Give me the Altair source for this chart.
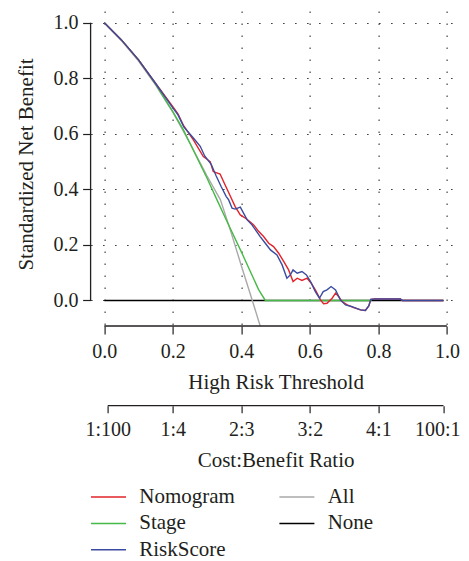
import json
import altair as alt
import pandas as pd

# ---------------- data ----------------
nomogram_t = [0.0, 0.05, 0.10, 0.15, 0.20, 0.215, 0.232, 0.26, 0.289, 0.309, 0.318, 0.338, 0.348,
              0.367, 0.382, 0.397, 0.412, 0.421, 0.436, 0.451, 0.465, 0.480, 0.494, 0.509, 0.524,
              0.538, 0.551, 0.563, 0.577, 0.592, 0.604, 0.616, 0.631, 0.640, 0.650, 0.665, 0.675,
              0.684, 0.694, 0.709, 0.728, 0.748, 0.762, 0.772, 0.778, 0.79, 0.864, 0.87, 0.99]
nomogram_v = [1.0, 0.938, 0.866, 0.781, 0.698, 0.672, 0.628, 0.578, 0.518, 0.500, 0.464, 0.455, 0.428,
              0.378, 0.338, 0.308, 0.296, 0.288, 0.272, 0.248, 0.230, 0.206, 0.194, 0.170, 0.140,
              0.110, 0.068, 0.080, 0.072, 0.080, 0.062, 0.038, 0.002, -0.012, -0.010, 0.008, 0.026,
              0.014, -0.004, -0.016, -0.026, -0.034, -0.036, -0.020, 0.004, 0.005, 0.005, 0.0, 0.0]

riskscore_t = [0.0, 0.05, 0.10, 0.15, 0.20, 0.215, 0.232, 0.26, 0.28, 0.293, 0.312, 0.326, 0.341,
               0.356, 0.363, 0.373, 0.382, 0.397, 0.417, 0.431, 0.455, 0.470, 0.485, 0.504, 0.519,
               0.533, 0.543, 0.551, 0.563, 0.577, 0.590, 0.602, 0.616, 0.628, 0.639, 0.650, 0.662,
               0.675, 0.689, 0.704, 0.723, 0.748, 0.762, 0.772, 0.778, 0.79, 0.864, 0.87, 0.99]
riskscore_v = [1.0, 0.938, 0.866, 0.781, 0.693, 0.668, 0.625, 0.585, 0.555, 0.520, 0.490, 0.450, 0.410,
               0.374, 0.362, 0.332, 0.329, 0.336, 0.290, 0.272, 0.230, 0.206, 0.182, 0.164, 0.128,
               0.080, 0.092, 0.110, 0.098, 0.104, 0.092, 0.068, 0.032, 0.008, 0.032, 0.038, 0.050,
               0.038, 0.002, -0.016, -0.022, -0.034, -0.036, -0.020, 0.004, 0.005, 0.005, 0.0, 0.0]

stage_t = [0.0, 0.05, 0.10, 0.15, 0.20, 0.231, 0.25, 0.30, 0.329, 0.35, 0.40, 0.45, 0.47, 0.78]
stage_v = [1.0, 0.938, 0.866, 0.778, 0.680, 0.614, 0.566, 0.440, 0.362, 0.306, 0.175, 0.040, 0.0, 0.0]

all_t = [0.0, 0.05, 0.10, 0.15, 0.20, 0.25, 0.30, 0.339, 0.37, 0.40, 0.43, 0.455]
all_v = [1.0, 0.936, 0.862, 0.775, 0.678, 0.566, 0.448, 0.362, 0.245, 0.125, 0.008, -0.092]

none_t = [0.0, 0.99]
none_v = [0.0, 0.0]

# drawing order (first drawn at the bottom)
draw_order = ["None", "All", "Stage", "Nomogram", "RiskScore"]
series_data = {
    "None": (none_t, none_v),
    "All": (all_t, all_v),
    "Stage": (stage_t, stage_v),
    "Nomogram": (nomogram_t, nomogram_v),
    "RiskScore": (riskscore_t, riskscore_v),
}
# legend order (filled column by column: Nomogram, Stage, RiskScore | All, None)
legend_order = ["Nomogram", "Stage", "RiskScore", "All", "None"]
legend_colors = ["#E2232A", "#47B947", "#3B4CA0", "#A9A9A9", "#000000"]

x_ticks = [0.0, 0.2, 0.4, 0.6, 0.8, 1.0]
y_ticks = [0.0, 0.2, 0.4, 0.6, 0.8, 1.0]
cb_pos = [0.01, 0.2, 0.4, 0.6, 0.8, 0.99]
cb_labels = ["1:100", "1:4", "2:3", "3:2", "4:1", "100:1"]

# ---------------- build ----------------
rows = []
for name in draw_order:
    ts, vs = series_data[name]
    for t, v in zip(ts, vs):
        rows.append({"series": name, "t": t, "v": v})
df = pd.DataFrame(rows)

FONT = "Liberation Serif"
TXT = "#231f20"
W, H = 370, 315
XD = [-0.04, 1.04]
YD = [-0.092, 1.042]
CB_OFF = 79.7


def xscale():
    return alt.Scale(domain=XD, nice=False, zero=False)


def yscale():
    return alt.Scale(domain=YD, nice=False, zero=False)


def x_axis():
    return alt.Axis(
        values=x_ticks, format=".1f", title="High Risk Threshold",
        domain=False, tickSize=8, tickWidth=1.2, tickColor=TXT,
        labelPadding=8, labelFontSize=20, labelFlush=False, labelOverlap=False,
        titleFontSize=21, titleY=62.5, titleBaseline="alphabetic",
        grid=True, gridDash=[1.5, 10.5], gridColor="#333333", gridWidth=1.1)


def y_axis():
    return alt.Axis(
        values=y_ticks, format=".1f", title="Standardized Net Benefit",
        domain=False, tickSize=8, tickWidth=1.2, tickColor=TXT,
        labelPadding=4.6, labelFontSize=20, labelFlush=False, labelOverlap=False,
        titleFontSize=21, titleAngle=270, titleX=-57.6, titleY=153,
        titleBaseline="alphabetic", titleAlign="center",
        grid=True, gridDash=[1.5, 10.5], gridColor="#333333", gridWidth=1.1)


lines = alt.Chart(df).mark_line(strokeWidth=1.4, clip=True).encode(
    x=alt.X("t:Q", scale=xscale(), axis=x_axis()),
    y=alt.Y("v:Q", scale=yscale(), axis=y_axis()),
    color=alt.Color("series:N", scale=alt.Scale(domain=legend_order, range=legend_colors),
                    legend=alt.Legend(
                        title=None, orient="none", legendX=6.9, legendY=475, columns=2,
                        symbolType="M-1.75,0H1.75", symbolSize=400, symbolStrokeWidth=1.5,
                        symbolOffset=0, labelOffset=19.8, rowPadding=5.4, columnPadding=40.4,
                        labelFontSize=21, labelFont=FONT, labelColor=TXT, padding=0,
                        labelLimit=300)),
)

xdom = alt.Chart(pd.DataFrame({"t": x_ticks})).mark_rule(color=TXT, strokeWidth=1.3).encode(
    x=alt.X("min(t):Q", scale=xscale(), axis=x_axis()),
    x2=alt.X2("max(t):Q"),
    y=alt.value(H),
)
ydom = alt.Chart(pd.DataFrame({"v": y_ticks})).mark_rule(color=TXT, strokeWidth=1.3).encode(
    y=alt.Y("min(v):Q", scale=yscale(), axis=y_axis()),
    y2=alt.Y2("max(v):Q"),
    x=alt.value(0),
)

inner = alt.layer(lines, xdom, ydom)

cb_expr = "{}[indexof({}, datum.value)]".format(json.dumps(cb_labels).replace('"', "'"),
                                                json.dumps(cb_pos))
cb = alt.Chart(pd.DataFrame({"pos": cb_pos, "label": cb_labels})).mark_rule(
    color=TXT, strokeWidth=1.3).encode(
    x=alt.X("min(pos):Q", scale=xscale(), axis=alt.Axis(
        orient="bottom", offset=CB_OFF, values=cb_pos, labelExpr=cb_expr,
        labelAlign={"expr": "datum.value > 0.9 ? 'right' : 'center'"},
        labelOffset={"expr": "datum.value > 0.9 ? 16.5 : 0"},
        title="Cost:Benefit Ratio", domain=False, tickSize=7, tickWidth=1.2, tickColor=TXT,
        labelPadding=7, labelFontSize=20, labelFlush=False, labelOverlap=False,
        titleFontSize=21, titleY=61, titleBaseline="alphabetic", grid=False)),
    x2=alt.X2("max(pos):Q"),
    y=alt.value(H + CB_OFF),
)

chart = alt.layer(inner, cb).resolve_scale(x="independent").properties(
    width=W, height=H,
    autosize=alt.AutoSizeParams(type="none"),
    padding={"left": 82.6, "top": 3, "right": 0, "bottom": 240},
).configure_axis(
    labelFont=FONT, titleFont=FONT, labelColor=TXT, titleColor=TXT, titleFontWeight="normal",
).configure_view(stroke=None)

chart.save("out.html", embed_options={"renderer": "svg", "actions": False})
